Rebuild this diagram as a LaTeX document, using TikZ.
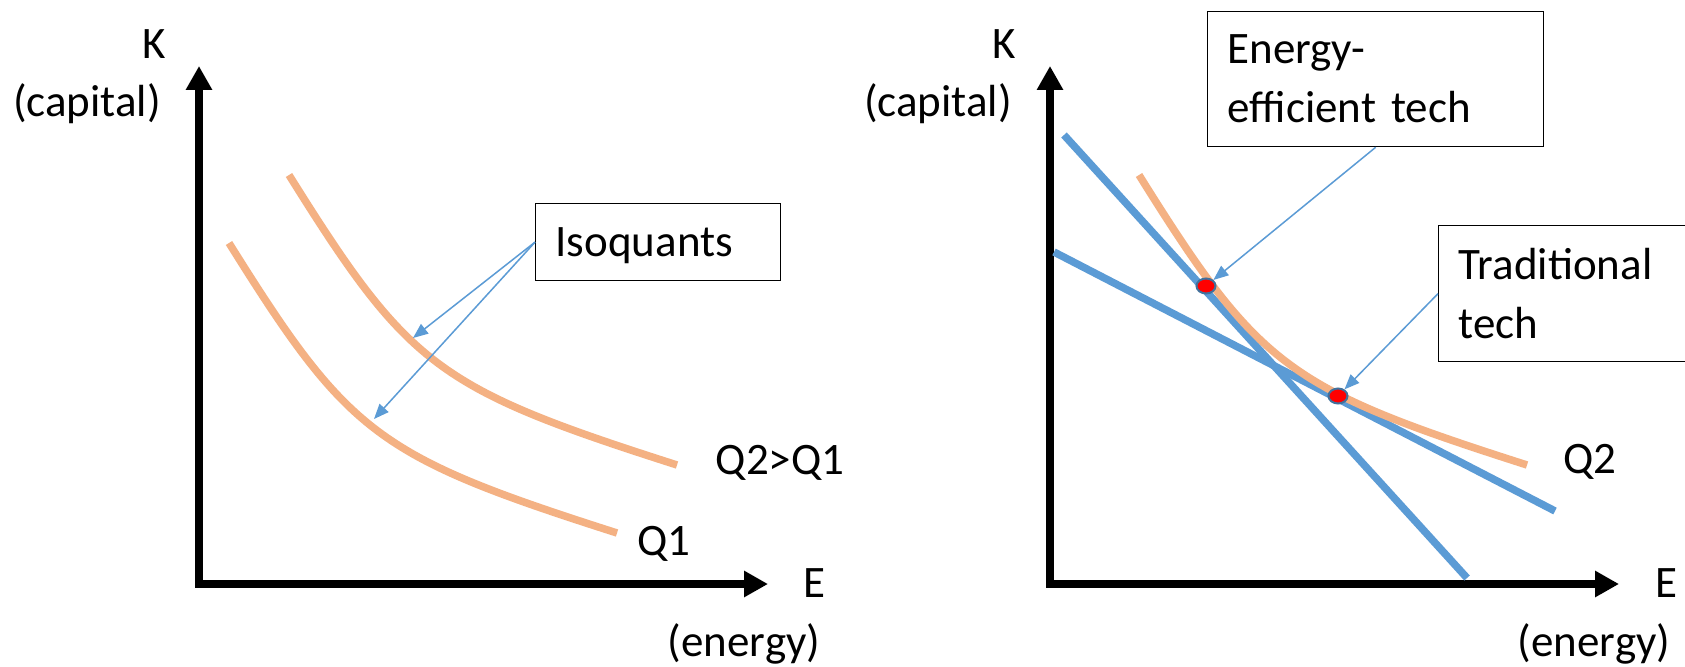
\documentclass[tikz,border=0pt]{standalone}
\usepackage{fontspec}
\setmainfont{Carlito}
\usetikzlibrary{arrows.meta,shapes.geometric}
\definecolor{isoorange}{HTML}{F4B183}
\definecolor{techblue}{HTML}{5B9BD5}
\definecolor{dotedge}{HTML}{41719C}
\begin{document}
\begin{tikzpicture}[x=1pt,y=-1pt,
  lbl/.style={font=\fontsize{45}{59}\selectfont, inner sep=0pt},
  axisline/.style={line width=7.5pt, line join=miter, {Triangle[length=24pt,width=25pt]}-{Triangle[length=24pt,width=25pt]}},
  isoline/.style={line width=7.5pt, isoorange},
  budget/.style={line width=7.5pt, techblue},
  callout/.style={draw=black, line width=1.3pt, fill=white, font=\fontsize{45}{59}\selectfont, align=left, inner xsep=20pt, inner ysep=0pt, anchor=north west},
  pointer/.style={techblue, line width=1.5pt, -{Triangle[length=15pt,width=12pt]}},
  techdot/.style={ellipse, draw=dotedge, line width=2pt, fill=red, minimum width=19pt, minimum height=15pt, inner sep=0pt},
  isoq/.pic={\draw[isoline] (289,175) .. controls (409,367) and (437,388.2) .. (677,465);}
]
\clip (0,0) rectangle (1685,666);
\fill[white] (0,0) rectangle (1685,666);

% ---------- left panel ----------
\draw[axisline] (199,66) -- (199,584) -- (768,584);
\pic at (0,0) {isoq};
\pic at (-60,68) {isoq};

\node[lbl, anchor=base] (k1) at (154,59) {K};
\node[lbl, anchor=base] (cap1) at (87,117) {(capital)};
\node[lbl, anchor=base] (e1) at (814,597) {E};
\node[lbl, anchor=base] (en1) at (744,656) {(energy)};
\node[lbl, anchor=base] (q2a) at (780,474) {Q2>Q1};
\node[lbl, anchor=base] (q1) at (664,555) {Q1};

\node[callout, text width=205pt, minimum height=77pt, text depth=0pt] (iso) at (535,203) {Isoquants};
\coordinate (tipa) at (413,338);
\coordinate (tipb) at (374,419);
\draw[pointer] (iso.west) -- (tipa);
\draw[pointer] (iso.west) -- (tipb);

% ---------- right panel ----------
\draw[axisline] (1050,66) -- (1050,584) -- (1619,584);
\draw[budget] (1064,135) -- (1467,578);
\draw[budget] (1054,252) -- (1555,511);
\pic at (850,0) {isoq};

\node[lbl, anchor=base] (k2) at (1004,59) {K};
\node[lbl, anchor=base] (cap2) at (938,117) {(capital)};
\node[lbl, anchor=base] (e2) at (1666,597) {E};
\node[lbl, anchor=base] (en2) at (1594,656) {(energy)};
\node[lbl, anchor=base] (q2b) at (1590,473) {Q2};

\node[techdot] (d1) at (1206,286) {};
\node[techdot] (d2) at (1338,396) {};

\node[callout, text width=296pt, minimum height=135pt] (ee) at (1207,11) {Energy-\\efficient tech};
\node[callout, text width=260pt, minimum height=136pt] (trad) at (1438,225) {Traditional\\tech};

\draw[pointer] (ee.south) -- (d1);
\draw[pointer] (trad.west) -- (d2);
\end{tikzpicture}
\end{document}
